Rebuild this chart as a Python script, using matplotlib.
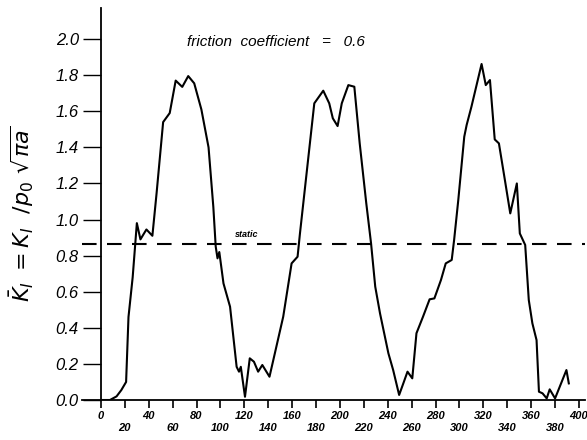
import matplotlib
matplotlib.use("Agg")
import matplotlib.pyplot as plt

# position (x) and normalised stress intensity factor
x = [0, 7.5, 13, 17, 21, 23, 26.5, 30, 33, 38,
     43, 46.5, 52, 57.5, 62.5, 68, 73, 78, 84, 90,
     94, 96, 97.5, 99, 102.5, 108, 113.5, 115.5, 117, 120.5,
     124.5, 128, 131.5, 135, 141, 145.5, 152.5, 159.5, 164.5, 166.5,
     170.5, 178.5, 186, 191, 194, 198, 201.5, 207, 212, 216.5,
     222, 226, 229.5, 233.5, 240.5, 244.5, 249.5, 253, 256.5, 260.5,
     264, 269.5, 275, 279, 284.5, 288.5, 293.5, 295.5, 299, 304,
     306, 310, 318.5, 322, 325.5, 329.5, 333, 338, 342.5, 348,
     350.5, 355, 358, 361, 364.5, 366.5, 369.5, 373, 375.5, 380,
     389.5, 391.5]
k1 = [0, 0, 0.02, 0.055, 0.10, 0.46, 0.68, 0.98, 0.89, 0.945,
      0.91, 1.145, 1.54, 1.59, 1.77, 1.735, 1.795, 1.755, 1.61, 1.40,
      1.07, 0.85, 0.785, 0.82, 0.646, 0.517, 0.184, 0.157, 0.184, 0.018,
      0.231, 0.212, 0.157, 0.194, 0.129, 0.259, 0.462, 0.757, 0.794, 0.923,
      1.163, 1.644, 1.714, 1.644, 1.561, 1.518, 1.644, 1.745, 1.736, 1.422,
      1.09, 0.868, 0.628, 0.48, 0.259, 0.166, 0.028, 0.092, 0.157, 0.12,
      0.37, 0.462, 0.558, 0.563, 0.665, 0.757, 0.776, 0.886, 1.108, 1.459,
      1.524, 1.625, 1.862, 1.745, 1.773, 1.444, 1.422, 1.219, 1.034, 1.2,
      0.923, 0.859, 0.554, 0.425, 0.332, 0.046, 0.037, 0.009, 0.059, 0.009,
      0.166, 0.092]
static_level = 0.862

xticks = list(range(0, 401, 20))
yticks = [0.0, 0.2, 0.4, 0.6, 0.8, 1.0, 1.2, 1.4, 1.6, 1.8, 2.0]

plt.rcParams['font.family'] = ['Liberation Sans', 'DejaVu Sans']

fig = plt.figure(figsize=(5.87, 4.40), dpi=100)
ax = fig.add_axes([0.1395, 0.0909, 0.857, 0.89])

ax.plot(x, k1, color='black', linewidth=1.5)
ax.axhline(static_level, color='black', linewidth=1.5, dashes=(7, 5))

ax.set_xlim(-16, 405)
ax.set_ylim(0, 2.17)

ax.spines['left'].set_position(('data', 0))
ax.spines['top'].set_visible(False)
ax.spines['right'].set_visible(False)
ax.spines['left'].set_linewidth(1.3)
ax.spines['bottom'].set_linewidth(1.3)

# staggered x labels: multiples of 40 on top row, the rest one row lower
xlabels = [str(v) if v % 40 == 0 else "\n" + str(v) for v in xticks]
ax.set_xticks(xticks)
ax.set_xticklabels(xlabels, fontsize=8, fontstyle='italic',
                   fontweight='bold', linespacing=1.2)
ax.tick_params(axis='x', direction='out', length=6, width=1.2, pad=2)

ax.set_yticks(yticks)
ax.set_yticklabels([f"{v:.1f}" for v in yticks], fontsize=12, fontstyle='italic')
ax.tick_params(axis='y', direction='out', length=13, width=1.0, pad=3)

ax.text(72, 1.96, "friction  coefficient   =   0.6", fontsize=11, fontstyle='italic')
ax.text(112, 0.905, "static", fontsize=6.5, fontstyle='italic', fontweight='bold')

fig.text(0.037, 0.515, r"$\bar{K}_I\ = K_I\ \ /p_0\ \sqrt{\pi a}$", rotation=90,
         fontsize=16, ha='center', va='center')

fig.savefig("out.png", dpi=100)
